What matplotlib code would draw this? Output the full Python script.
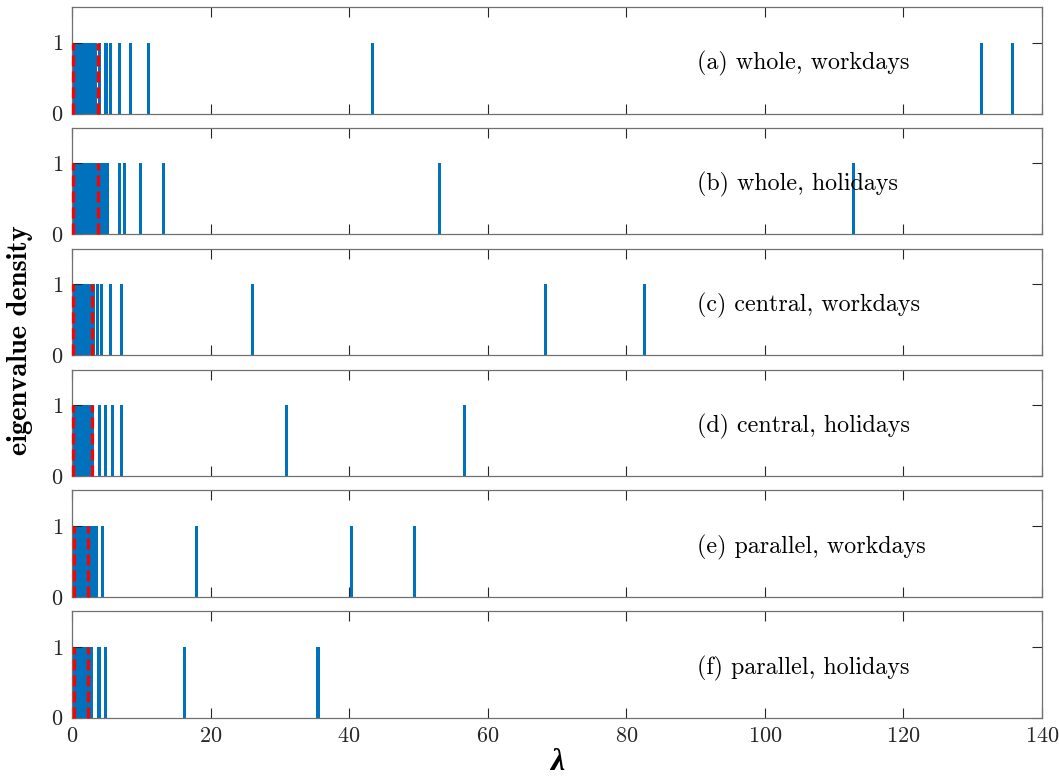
import matplotlib
matplotlib.use('Agg')
import matplotlib.pyplot as plt

plt.rcParams['font.family'] = 'cmr10'
plt.rcParams['mathtext.fontset'] = 'cm'
plt.rcParams['axes.formatter.use_mathtext'] = True

# panel labels
labels = ['(a) whole, workdays', '(b) whole, holidays',
          '(c) central, workdays', '(d) central, holidays',
          '(e) parallel, workdays', '(f) parallel, holidays']

# upper end of the dense bulk of eigenvalues near zero
bulk_end = [3.6, 5.3, 3.3, 3.2, 3.7, 3.1]

# isolated eigenvalues outside the bulk
outliers = [
    [4.0, 4.9, 5.6, 6.9, 8.4, 11.0, 43.4, 131.3, 135.7],
    [6.9, 7.6, 9.9, 13.2, 53.1, 112.8],
    [3.7, 4.3, 5.5, 7.2, 26.1, 68.3, 82.6],
    [4.0, 4.8, 5.8, 7.2, 31.0, 56.6],
    [4.4, 18.0, 40.3, 49.4],
    [3.9, 4.8, 16.2, 35.5],
]

# Marchenko-Pastur bounds (red dashed)
mp_min = [0.15, 0.15, 0.15, 0.15, 0.25, 0.25]
mp_max = [3.7, 3.7, 2.85, 2.9, 2.25, 2.35]

blue = '#0072BD'
axcol = '#262626'

fig, axes = plt.subplots(6, 1, figsize=(10.59, 7.81), dpi=100, sharex=True)
fig.subplots_adjust(left=0.068, right=0.984, top=0.991, bottom=0.081, hspace=0.135)

for i, ax in enumerate(axes):
    ax.bar(0, 1, width=bulk_end[i], align='edge', color=blue, edgecolor='none')
    ax.bar(outliers[i], [1] * len(outliers[i]), width=0.45, color=blue, edgecolor='none')
    for x in (mp_min[i], mp_max[i]):
        ax.plot([x, x], [0, 1], color='#FF0000', linewidth=2.3, dashes=(3.5, 1.5),
                zorder=5, clip_on=False)
    ax.set_xlim(0, 140)
    ax.set_ylim(0, 1.5)
    ax.set_yticks([0, 1])
    ax.set_xticks(range(0, 141, 20))
    ax.tick_params(direction='in', top=True, right=True, length=7, width=0.8,
                   colors=axcol, labelsize=16, pad=6)
    for s in ax.spines.values():
        s.set_color('#707070')
        s.set_linewidth(0.9)
    ax.text(90.2, 0.7, labels[i], fontsize=17.3, va='center', ha='left', color='black')

axes[-1].set_xlabel('λ', fontsize=23, labelpad=2, family='Liberation Serif',
                    fontweight='bold', fontstyle='italic')
fig.text(0.019, 0.565, 'eigenvalue density', rotation=90, fontsize=20.5,
         family='cmb10', va='center', ha='center')

plt.savefig('out.png', dpi=100)
